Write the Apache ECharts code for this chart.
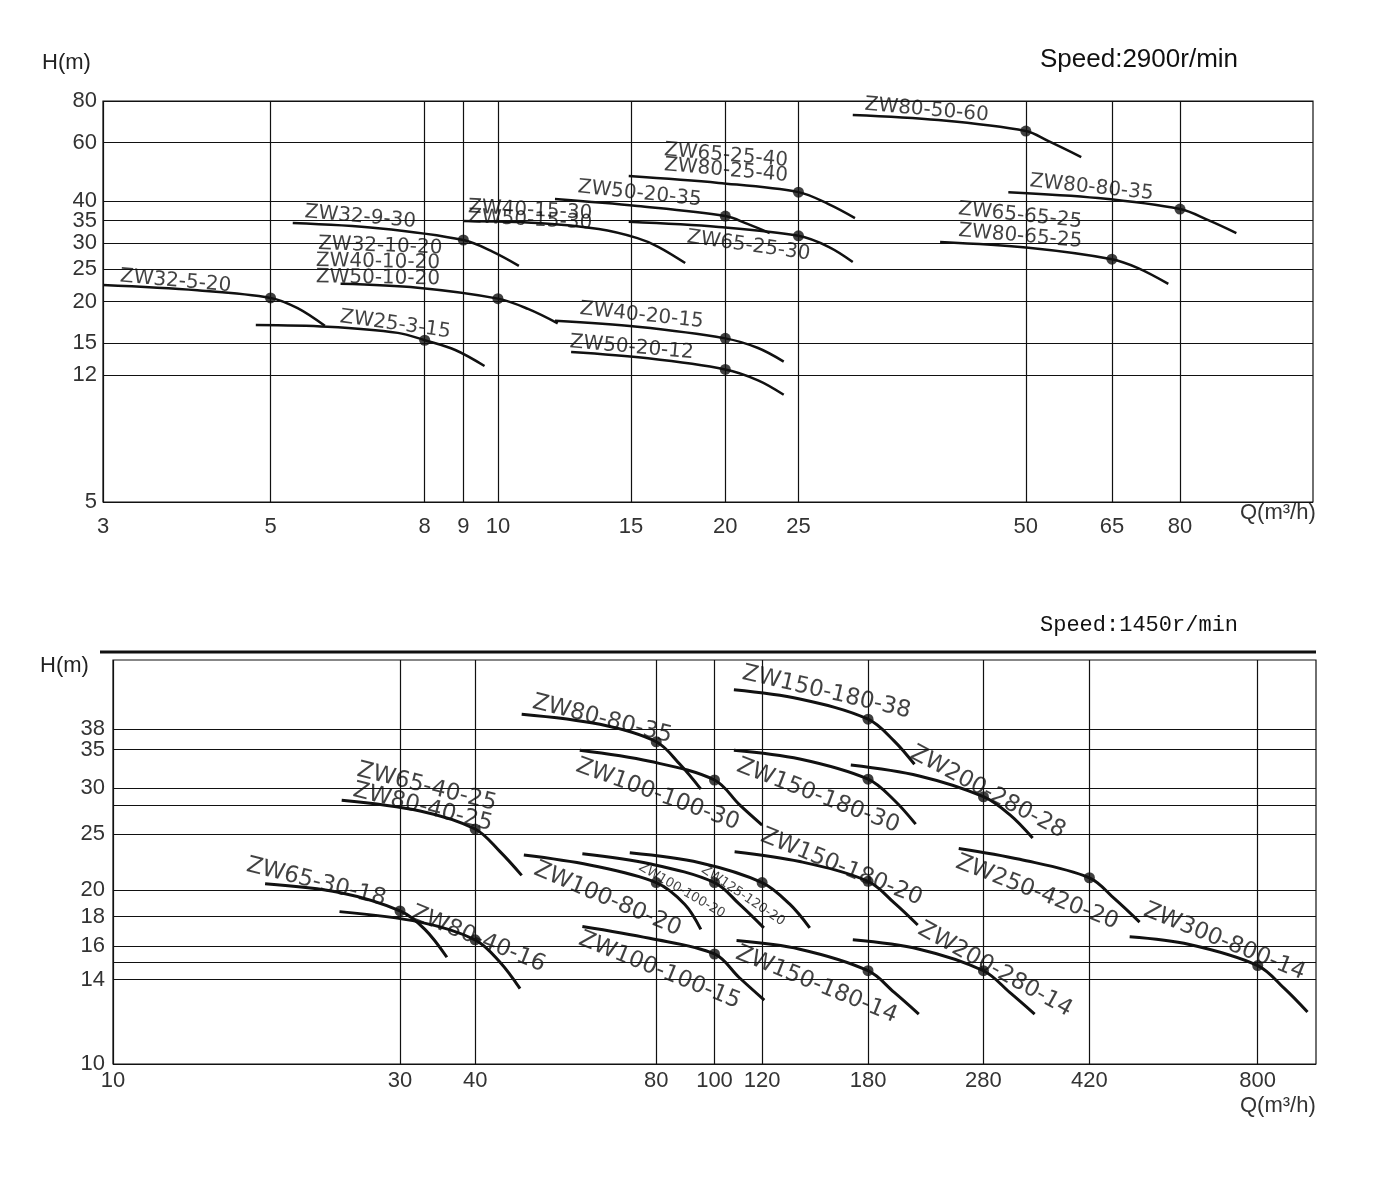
<!DOCTYPE html>
<html>
<head>
<meta charset="utf-8">
<title>ZW pump performance curves</title>
<script src="https://cdn.jsdelivr.net/npm/echarts@6/dist/echarts.min.js"></script>
<style>
html, body { margin: 0; background: #fff; }
#main { width: 1378px; height: 1184px; }
</style>
</head>
<body>
<div id="main"></div>
<script>
// ---- 2900 r/min chart ----
const topXLines = [3, 5, 8, 9, 10, 15, 20, 25, 50, 65, 80];
const topYLines = [5, 12, 15, 20, 25, 30, 35, 40, 60, 80];

// each curve: [Q, H] points
const topCurves = [
  [[3, 22.4], [4.0, 21.6], [5, 20.5], [5.43, 19.1], [5.9, 16.9]],            // ZW32-5-20
  [[4.78, 17.0], [5.95, 16.8], [7.37, 16.1], [8, 15.3], [8.78, 14.3], [9.6, 12.8]], // ZW25-3-15
  [[5.35, 34.4], [6.94, 33.2], [9, 30.6], [9.85, 28.2], [10.66, 25.6]],      // ZW32-9-30
  [[6.19, 22.6], [7.83, 22.0], [10, 20.4], [10.96, 19.0], [12.0, 17.2]],     // ZW32/40/50-10-20
  [[9.0, 34.9], [11.3, 34.4], [13.6, 33.0], [15.3, 31.0], [16.3, 29.2], [17.7, 26.1]], // ZW40/50-15-30
  [[11.9, 40.6], [15.3, 38.7], [20, 36.1], [21.4, 34.2], [22.9, 32.1]],      // ZW50-20-35
  [[14.9, 34.7], [19.6, 33.5], [25, 31.5], [27.4, 29.2], [29.5, 26.3]],      // ZW65-25-30
  [[14.9, 47.6], [19.6, 45.4], [25, 42.6], [27.4, 39.2], [29.7, 35.6]],      // ZW65/80-25-40
  [[29.5, 72.6], [38.3, 70.1], [50, 65.0], [53.5, 60.7], [59.2, 54.3]],      // ZW80-50-60
  [[47.4, 42.6], [62.3, 40.9], [80, 37.9], [87.2, 35.1], [95, 32.1]],        // ZW80-80-35
  [[38.5, 30.2], [50.4, 29.0], [65, 26.8], [70.4, 25.2], [77.2, 22.6]],      // ZW65/80-65-25
  [[11.9, 17.5], [15.3, 16.8], [20, 15.5], [22.1, 14.5], [23.9, 13.2]],      // ZW40-20-15
  [[12.5, 14.1], [15.8, 13.5], [20, 12.5], [22.1, 11.6], [23.9, 10.5]]       // ZW50-20-12
];
const topRated = [[5, 20.5], [8, 15.3], [9, 30.6], [10, 20.4], [20, 36.1], [25, 31.5],
  [25, 42.6], [50, 65.0], [80, 37.9], [65, 26.8], [20, 15.5], [20, 12.5]];
// model name, Q, H at the start of the text, tilt in degrees
const topTags = [
  ['ZW32-5-20', 3.16, 23.8, 5], ['ZW25-3-15', 6.18, 18.0, 8], ['ZW32-9-30', 5.55, 37.1, 5],
  ['ZW32-10-20', 5.78, 29.8, 2], ['ZW40-10-20', 5.74, 26.5, 1], ['ZW50-10-20', 5.74, 23.7, 1],
  ['ZW40-15-30', 9.13, 38.4, 3], ['ZW50-15-30', 9.13, 35.9, 3], ['ZW50-20-35', 12.76, 44.1, 6],
  ['ZW65-25-40', 16.6, 57.0, 5], ['ZW80-25-40', 16.6, 51.4, 5], ['ZW65-25-30', 17.8, 31.2, 8],
  ['ZW80-50-60', 30.6, 78.0, 5], ['ZW80-80-35', 50.6, 46.0, 6], ['ZW65-65-25', 40.7, 37.9, 6],
  ['ZW80-65-25', 40.7, 32.6, 5], ['ZW40-20-15', 12.84, 19.0, 6], ['ZW50-20-12', 12.45, 15.1, 5]
];

// ---- 1450 r/min chart ----
const botXLines = [10, 30, 40, 80, 100, 120, 180, 280, 420, 800];
const botYLines = [10, 14, 15, 16, 18, 20, 25, 28, 30, 35, 38];
// 38 listed first so the end-label overlap check does not drop 35 or 38
const botYLabels = [38, 10, 14, 16, 18, 20, 25, 30, 35];

const botCurves = [
  [[17.9, 20.5], [23.8, 19.8], [30, 18.4], [33.0, 17.1], [35.9, 15.3]],      // ZW65-30-18
  [[23.8, 18.35], [32.4, 17.6], [40, 16.4], [44, 15.0], [47.5, 13.5]],       // ZW80-40-16
  [[24.0, 28.6], [32.4, 27.4], [40, 25.5], [44, 23.3], [47.8, 21.2]],        // ZW65/80-40-25
  [[47.8, 40.3], [64.5, 38.7], [80, 36.1], [87.6, 33.0], [94.9, 29.9]],      // ZW80-80-35
  [[59.7, 34.9], [78, 33.4], [100, 31.0], [110, 28.1], [120, 25.9]],         // ZW100-100-30
  [[107.7, 44.4], [138.6, 42.8], [180, 39.5], [199, 36.2], [215, 33.0]],     // ZW150-180-38
  [[107.7, 34.9], [138.6, 33.7], [180, 31.1], [199, 28.6], [216, 26.0]],     // ZW150-180-30
  [[168.5, 32.9], [219, 31.5], [280, 29.0], [309.6, 27.0], [338, 24.6]],     // ZW200-280-28
  [[108, 23.3], [138.6, 22.4], [180, 20.7], [199, 19.0], [217.7, 17.4]],     // ZW150-180-20
  [[72.3, 23.2], [94.5, 22.3], [120, 20.6], [133.4, 18.9], [144, 17.2]],     // ZW125-120-20
  [[60.3, 23.1], [78, 22.2], [100, 20.6], [110, 18.9], [120.8, 17.2]],       // ZW100-100-20
  [[48.2, 23.0], [62, 22.1], [80, 20.6], [89.2, 18.9], [94.9, 17.1]],        // ZW100-80-20
  [[60.3, 17.3], [78, 16.5], [100, 15.5], [110, 14.1], [121, 12.9]],         // ZW100-100-15
  [[108.8, 16.35], [138.6, 15.8], [180, 14.5], [199, 13.3], [218.6, 12.2]],  // ZW150-180-14
  [[169.8, 16.4], [219, 15.8], [280, 14.5], [309.6, 13.3], [340.6, 12.2]],   // ZW200-280-14
  [[254.7, 23.6], [321.7, 22.6], [420, 21.0], [462.8, 19.3], [509, 17.6]],   // ZW250-420-20
  [[490, 16.6], [616, 16.1], [800, 14.8], [886.7, 13.5], [968, 12.3]]        // ZW300-800-14
];
const botRated = [[30, 18.4], [40, 16.4], [40, 25.5], [80, 36.1], [100, 31.0], [180, 39.5],
  [180, 31.1], [280, 29.0], [180, 20.7], [120, 20.6], [100, 20.6], [80, 20.6], [100, 15.5],
  [180, 14.5], [280, 14.5], [420, 21.0], [800, 14.8]];
const botTags = [
  ['ZW65-30-18', 16.7, 22.1, 14], ['ZW80-40-16', 31.4, 18.3, 22], ['ZW65-40-25', 25.5, 32.3, 14],
  ['ZW80-40-25', 25.1, 29.8, 14], ['ZW80-80-35', 49.9, 42.3, 14], ['ZW100-100-30', 59, 32.9, 20],
  ['ZW100-80-20', 50.3, 21.8, 23], ['ZW100-100-15', 59.7, 16.5, 22], ['ZW150-180-38', 111.4, 47.5, 13],
  ['ZW150-180-30', 109.3, 32.9, 21], ['ZW150-180-20', 119.8, 24.9, 22], ['ZW200-280-28', 212.8, 34.7, 28],
  ['ZW250-420-20', 252.7, 22.4, 21], ['ZW300-800-14', 519, 18.5, 22], ['ZW150-180-14', 108.9, 15.6, 22],
  ['ZW200-280-14', 219.4, 17.2, 29], ['ZW100-100-20', 75.1, 22.0, 30, 13], ['ZW125-120-20', 95.6, 21.8, 34, 13]
];

const ink = '#111';
const numFont = { fontFamily: 'Liberation Sans, Arial, sans-serif', fontSize: 22, color: '#333' };

function logAxis(gridIndex, min, max, lines, labels, margin) {
  return {
    type: 'log', logBase: 10, gridIndex: gridIndex, min: min, max: max,
    axisLine: { show: false },
    axisTick: { show: false, customValues: lines },
    axisLabel: Object.assign({ customValues: labels, margin: margin,
      showMinLabel: true, showMaxLabel: true, hideOverlap: false,
      formatter: v => String(Math.round(v)) }, numFont),
    splitLine: { show: true, lineStyle: { color: ink, width: 1.2 } }
  };
}

const series = [];
function addPlot(curves, rated, tags, idx, lineW, tagSize) {
  curves.forEach(pts => {
    series.push({
      type: 'line', xAxisIndex: idx, yAxisIndex: idx, data: pts,
      smooth: 0.35, symbol: 'none', silent: true, z: 3,
      lineStyle: { color: ink, width: lineW }
    });
  });
  series.push({
    type: 'scatter', xAxisIndex: idx, yAxisIndex: idx, data: rated,
    symbolSize: 11, itemStyle: { color: ink }, silent: true, z: 4
  });
  series.push({
    type: 'scatter', xAxisIndex: idx, yAxisIndex: idx, silent: true, z: 5,
    symbolSize: 1, itemStyle: { color: 'rgba(0,0,0,0)' },
    data: tags.map(t => ({ name: t[0], value: [t[1], t[2]],
      label: { rotate: -t[3], fontSize: t[4] || tagSize } })),
    label: {
      show: true, position: 'inside', align: 'left', verticalAlign: 'middle',
      formatter: p => p.name, color: '#111', fontFamily: 'DejaVu Sans', fontSize: tagSize
    }
  });
}
addPlot(topCurves, topRated, topTags, 0, 2.5, 20);
addPlot(botCurves, botRated, botTags, 1, 3, 23);

const chart = echarts.init(document.getElementById('main'));
chart.setOption({
  animation: false,
  backgroundColor: '#fff',
  grid: [
    { left: 103, top: 101, width: 1210, height: 401, show: true, borderColor: ink, borderWidth: 1.2 },
    { left: 113, top: 660, width: 1203, height: 404, show: true, borderColor: ink, borderWidth: 1.2 }
  ],
  xAxis: [
    logAxis(0, 3, 120, topXLines, topXLines, 14),
    logAxis(1, 10, 1000, botXLines, botXLines, 6)
  ],
  yAxis: [
    logAxis(0, 5, 80, topYLines, topYLines, 6),
    logAxis(1, 10, 50, botYLines, botYLabels, 8)
  ],
  graphic: [
    { type: 'text', left: 42, top: 52, style: { text: 'H(m)', font: '22px Liberation Sans', fill: '#222' } },
    { type: 'text', left: 1040, top: 47, style: { text: 'Speed:2900r/min', font: '26px Liberation Sans', fill: '#111' } },
    { type: 'text', left: 1240, top: 502, style: { text: 'Q(m³/h)', font: '22px Liberation Sans', fill: '#333' } },
    { type: 'text', left: 40, top: 655, style: { text: 'H(m)', font: '22px Liberation Sans', fill: '#222' } },
    { type: 'text', left: 1040, top: 614, style: { text: 'Speed:1450r/min', font: '22px Liberation Mono', fill: '#111' } },
    { type: 'text', left: 1240, top: 1095, style: { text: 'Q(m³/h)', font: '22px Liberation Sans', fill: '#333' } },
    { type: 'line', shape: { x1: 100, y1: 652, x2: 1316, y2: 652 }, style: { stroke: ink, lineWidth: 3 } }
  ],
  series: series
});
</script>
</body>
</html>
